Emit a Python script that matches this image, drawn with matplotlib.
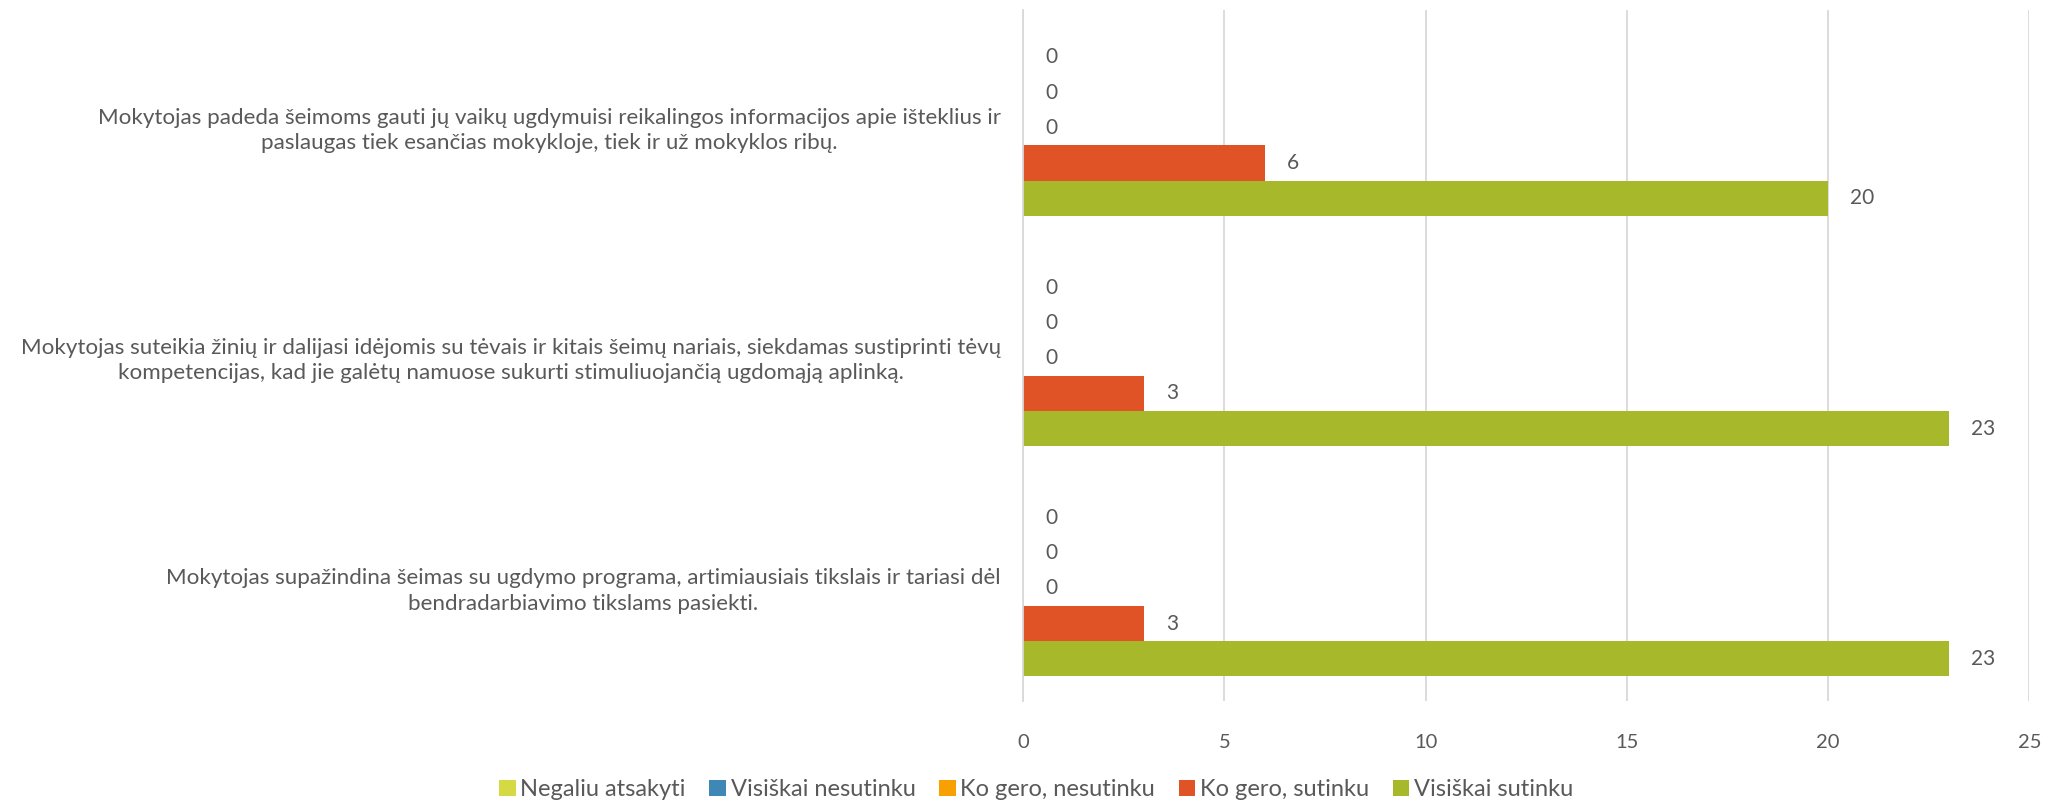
#!/usr/bin/env python3
"""Horizontal grouped bar chart: teacher-family cooperation survey answers."""

import matplotlib.pyplot as plt
import numpy as np

plt.rcParams["font.family"] = ["Lato", "DejaVu Sans"]

# categories from bottom to top
statements = [
    "Mokytojas supažindina šeimas su ugdymo programa, artimiausiais tikslais ir tariasi dėl\nbendradarbiavimo tikslams pasiekti.",
    "Mokytojas suteikia žinių ir dalijasi idėjomis su tėvais ir kitais šeimų nariais, siekdamas sustiprinti tėvų\nkompetencijas, kad jie galėtų namuose sukurti stimuliuojančią ugdomąją aplinką.",
    "Mokytojas padeda šeimoms gauti jų vaikų ugdymuisi reikalingos informacijos apie išteklius ir\npaslaugas tiek esančias mokykloje, tiek ir už mokyklos ribų.",
]
answers = ["Negaliu atsakyti", "Visiškai nesutinku", "Ko gero, nesutinku",
           "Ko gero, sutinku", "Visiškai sutinku"]
negaliu = [0, 0, 0]
visiskai_nesutinku = [0, 0, 0]
ko_gero_nesutinku = [0, 0, 0]
ko_gero_sutinku = [3, 3, 6]
visiskai_sutinku = [23, 23, 20]
series = [negaliu, visiskai_nesutinku, ko_gero_nesutinku, ko_gero_sutinku, visiskai_sutinku]
colors = ["#D5D944", "#3F88B5", "#F8A000", "#E05327", "#A7B82A"]

TEXT = "#595959"
GRID = "#D9D9D9"

fig = plt.figure(figsize=(20.56, 8.05), dpi=100)
ax = fig.add_axes([0.4976, 0.129, 0.4894, 0.858])

y = np.arange(len(statements))
h = 0.153
for i, (name, vals, col) in enumerate(zip(answers, series, colors)):
    offs = (2 - i) * h - 0.01
    bars = ax.barh(y + offs, vals, height=h, color=col, label=name, zorder=2)
    for b, v in zip(bars, vals):
        ax.text(v + 0.55, b.get_y() + h / 2, str(v), va="center", ha="left",
                fontsize=15, color=TEXT)

ax.set_xlim(0, 25)
ax.set_ylim(-0.5, 2.5)
ax.set_xticks(np.arange(0, 26, 5))
ax.set_yticks(y)
ax.set_yticklabels(statements, multialignment="center", linespacing=1.35)
ax.tick_params(axis="y", length=0, pad=16, labelsize=16.1, labelcolor=TEXT)
ax.tick_params(axis="x", length=0, pad=24, labelsize=14.5, labelcolor=TEXT)
ax.grid(axis="x", color=GRID, linewidth=1.3, zorder=0)
for s in ["top", "right", "bottom"]:
    ax.spines[s].set_visible(False)
ax.spines["left"].set_color(GRID)
ax.spines["left"].set_linewidth(1.3)

fig.legend(loc="center", bbox_to_anchor=(0.504, 0.019), ncol=5, frameon=False,
           fontsize=17, labelcolor=TEXT, handlelength=0.7, handleheight=0.7,
           handletextpad=0.2, columnspacing=1.0)

fig.savefig("out.png", dpi=100)
